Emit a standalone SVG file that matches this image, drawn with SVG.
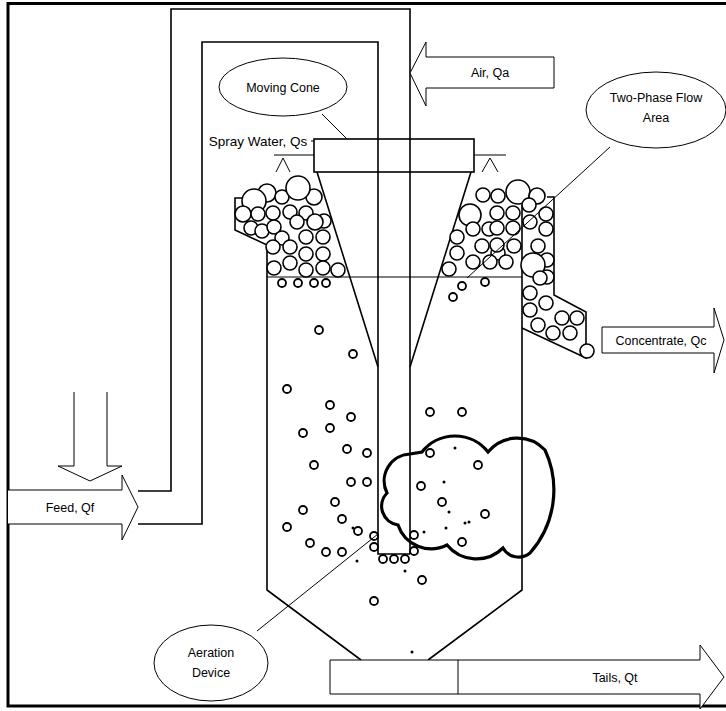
<svg xmlns="http://www.w3.org/2000/svg" width="726" height="711" viewBox="0 0 726 711">
  <style>
    .frame { fill: none; stroke: #000; stroke-width: 3; }
    .wall { fill: none; stroke: #000; stroke-width: 1.6; }
    .thin { fill: none; stroke: #000; stroke-width: 1; }
    .arrow { fill: #fff; stroke: #000; stroke-width: 1; }
    .bub { fill: #fff; stroke: #000; stroke-width: 1.6; }
    .sb { fill: #fff; stroke: #000; stroke-width: 1.8; }
    .dot { fill: #000; }
    .cloud { fill: none; stroke: #000; stroke-width: 3.2; }
    .lbl { font-family: "Liberation Sans", Arial, sans-serif; font-size: 12.5px; fill: #000; text-anchor: middle; }
  </style>

  <rect width="726" height="711" fill="#fff"/>

  <!-- border -->
  <path class="frame" d="M 726,3.5 H 8 V 706 H 726"/>

  <!-- feed / air pipe -->
  <g id="pipe">
    <path class="wall" d="M 138,491 H 171 V 9 H 410 V 554"/>
    <path class="wall" d="M 138,524 H 202 V 42 H 378 V 554 H 410"/>
  </g>

  <!-- column body -->
  <g id="column">
    <!-- left launder and wall -->
    <path class="wall" d="M 243,198 H 235 V 230 L 267,245 V 590 L 361,660"/>
    <!-- right wall, launder -->
    <path class="wall" d="M 547,197 H 554 V 295 L 586,312 V 358 L 522,328"/>
    <path class="wall" d="M 522,205 V 590 L 428,660"/>
    <!-- froth / pulp interface -->
    <path class="thin" d="M 267,277 H 522"/>
  </g>

  <!-- moving cone -->
  <g id="cone">
    <rect class="wall" x="314" y="139" width="160" height="33"/>
    <path class="wall" d="M 317,172 L 378,367 M 471,172 L 410,367"/>
    <!-- spray bars -->
    <path class="thin" d="M 274,155 H 314 M 276,172 L 283,158 L 290,172"/>
    <path class="thin" d="M 474,155 H 506 M 482,172 L 490,158 L 498,172"/>
  </g>

  <!-- froth bubbles -->
  <g id="froth-left">
    <circle class="bub" cx="267" cy="193" r="9"/>
    <circle class="bub" cx="254" cy="201" r="12"/>
    <circle class="bub" cx="282" cy="197" r="7"/>
    <circle class="bub" cx="314" cy="197" r="8"/>
    <circle class="bub" cx="298" cy="188" r="12"/>
    <circle class="bub" cx="243" cy="214" r="8"/>
    <circle class="bub" cx="258" cy="214" r="7"/>
    <circle class="bub" cx="273" cy="213" r="7"/>
    <circle class="bub" cx="290" cy="212" r="7"/>
    <circle class="bub" cx="306" cy="213" r="7"/>
    <circle class="bub" cx="324" cy="221" r="7"/>
    <circle class="bub" cx="251" cy="228" r="7"/>
    <circle class="bub" cx="262" cy="231" r="7"/>
    <circle class="bub" cx="274" cy="227" r="7"/>
    <circle class="bub" cx="297" cy="222" r="7"/>
    <circle class="bub" cx="315" cy="222" r="8"/>
    <circle class="bub" cx="282" cy="238" r="7"/>
    <circle class="bub" cx="306" cy="237" r="7"/>
    <circle class="bub" cx="323" cy="237" r="7"/>
    <circle class="bub" cx="273" cy="247" r="7"/>
    <circle class="bub" cx="290" cy="247" r="7"/>
    <circle class="bub" cx="306" cy="254" r="7"/>
    <circle class="bub" cx="323" cy="254" r="7"/>
    <circle class="bub" cx="290" cy="263" r="7"/>
    <circle class="bub" cx="274" cy="268" r="7"/>
    <circle class="bub" cx="306" cy="270" r="7"/>
    <circle class="bub" cx="323" cy="268" r="7"/>
    <circle class="bub" cx="338" cy="270" r="7"/>
  </g>

  <g id="froth-right">
    <circle class="bub" cx="483" cy="195" r="7"/>
    <circle class="bub" cx="498" cy="196" r="7"/>
    <circle class="bub" cx="518" cy="192" r="12"/>
    <circle class="bub" cx="537" cy="196" r="8"/>
    <circle class="bub" cx="529" cy="205" r="7"/>
    <circle class="bub" cx="470" cy="215" r="11"/>
    <circle class="bub" cx="497" cy="213" r="7"/>
    <circle class="bub" cx="513" cy="213" r="7"/>
    <circle class="bub" cx="530" cy="222" r="7"/>
    <circle class="bub" cx="546" cy="214" r="7"/>
    <circle class="bub" cx="473" cy="229" r="7"/>
    <circle class="bub" cx="489" cy="229" r="7"/>
    <circle class="bub" cx="497" cy="228" r="7"/>
    <circle class="bub" cx="513" cy="228" r="7"/>
    <circle class="bub" cx="546" cy="229" r="7"/>
    <circle class="bub" cx="457" cy="237" r="7"/>
    <circle class="bub" cx="482" cy="246" r="7"/>
    <circle class="bub" cx="498" cy="253" r="7"/>
    <circle class="bub" cx="497" cy="245" r="7"/>
    <circle class="bub" cx="514" cy="246" r="7"/>
    <circle class="bub" cx="538" cy="246" r="7"/>
    <circle class="bub" cx="457" cy="253" r="7"/>
    <circle class="bub" cx="473" cy="262" r="7"/>
    <circle class="bub" cx="490" cy="262" r="7"/>
    <circle class="bub" cx="506" cy="262" r="7"/>
    <circle class="bub" cx="449" cy="269" r="7"/>
    <circle class="bub" cx="547" cy="260" r="7"/>
    <circle class="bub" cx="533" cy="265" r="12"/>
    <circle class="bub" cx="547" cy="277" r="7"/>
    <circle class="bub" cx="540" cy="278" r="7"/>
    <circle class="bub" cx="530" cy="293" r="7"/>
    <circle class="bub" cx="546" cy="303" r="7"/>
    <circle class="bub" cx="530" cy="310" r="7"/>
    <circle class="bub" cx="538" cy="325" r="7"/>
    <circle class="bub" cx="553" cy="333" r="7"/>
    <circle class="bub" cx="562" cy="318" r="7"/>
    <circle class="bub" cx="570" cy="333" r="7"/>
    <circle class="bub" cx="577" cy="318" r="7"/>
    <circle class="bub" cx="587" cy="351" r="7"/>
  </g>

  <!-- rising bubbles in the pulp -->
  <g id="pulp-bubbles">
    <circle class="sb" cx="282" cy="283" r="4"/>
    <circle class="sb" cx="298" cy="283" r="4"/>
    <circle class="sb" cx="314" cy="283" r="4"/>
    <circle class="sb" cx="326" cy="283" r="4"/>
    <circle class="sb" cx="462" cy="286" r="4"/>
    <circle class="sb" cx="453" cy="297" r="4"/>
    <circle class="sb" cx="485" cy="282" r="4"/>
    <circle class="sb" cx="319" cy="330" r="4"/>
    <circle class="sb" cx="353" cy="354" r="4"/>
    <circle class="sb" cx="287" cy="389" r="4"/>
    <circle class="sb" cx="330" cy="405" r="4"/>
    <circle class="sb" cx="351" cy="417" r="4"/>
    <circle class="sb" cx="330" cy="428" r="4"/>
    <circle class="sb" cx="303" cy="433" r="4"/>
    <circle class="sb" cx="347" cy="449" r="4"/>
    <circle class="sb" cx="367" cy="453" r="4"/>
    <circle class="sb" cx="314" cy="465" r="4"/>
    <circle class="sb" cx="351" cy="482" r="4"/>
    <circle class="sb" cx="367" cy="482" r="4"/>
    <circle class="sb" cx="335" cy="502" r="4"/>
    <circle class="sb" cx="303" cy="510" r="4"/>
    <circle class="sb" cx="342" cy="519" r="4"/>
    <circle class="sb" cx="287" cy="527" r="4"/>
    <circle class="sb" cx="358" cy="531" r="4"/>
    <circle class="sb" cx="310" cy="543" r="4"/>
    <circle class="sb" cx="326" cy="552" r="4"/>
    <circle class="sb" cx="342" cy="552" r="4"/>
    <circle class="sb" cx="430" cy="412" r="4"/>
    <circle class="sb" cx="462" cy="412" r="4"/>
    <circle class="sb" cx="430" cy="453" r="4"/>
    <circle class="sb" cx="478" cy="465" r="4"/>
    <circle class="sb" cx="421" cy="486" r="4"/>
    <circle class="sb" cx="442" cy="502" r="4"/>
    <circle class="sb" cx="485" cy="514" r="4"/>
    <circle class="sb" cx="462" cy="542" r="4"/>
    <circle class="sb" cx="422" cy="580" r="4"/>
    <circle class="sb" cx="374" cy="601" r="4"/>
    <circle class="dot" cx="455" cy="448" r="1.5"/>
    <circle class="dot" cx="444" cy="482" r="1.5"/>
    <circle class="dot" cx="449" cy="512" r="1.5"/>
    <circle class="dot" cx="424" cy="532" r="1.5"/>
    <circle class="dot" cx="446" cy="528" r="1.5"/>
    <circle class="dot" cx="465" cy="523" r="1.5"/>
    <circle class="dot" cx="469" cy="522" r="1.5"/>
    <circle class="dot" cx="357" cy="561" r="1.5"/>
    <circle class="dot" cx="405" cy="571" r="1.5"/>
    <circle class="dot" cx="353" cy="528" r="1.5"/>
    <circle class="dot" cx="412" cy="652" r="1.5"/>
  </g>

  <!-- aeration device at the column foot -->
  <g id="aerator">
    <circle class="sb" cx="374" cy="536" r="4"/>
    <circle class="sb" cx="374" cy="547" r="4"/>
    <circle class="sb" cx="383" cy="559" r="4"/>
    <circle class="sb" cx="394" cy="559" r="4"/>
    <circle class="sb" cx="405" cy="559" r="4"/>
    <circle class="sb" cx="414" cy="535" r="4"/>
    <circle class="sb" cx="414" cy="551" r="4"/>
  </g>

  <!-- two-phase flow area -->
  <g id="cloud">
    <path class="cloud" d="M 410,454 L 422,452 A 42,42 0 0 1 488,452 A 38,38 0 0 1 545,450 A 95,95 0 0 1 530,553 A 18,18 0 0 1 503,548 A 38,38 0 0 1 447,545 A 35,35 0 0 1 398,525 A 19,19 0 0 1 387,493 A 27,27 0 0 1 410,454 Z"/>
  </g>

  <!-- flow arrows -->
  <g id="air">
    <path class="arrow" d="M 554,57 H 426 V 42 L 410,73 L 426,106 V 88 H 554 Z"/>
    <text class="lbl" x="490" y="77">Air, Qa</text>
  </g>
  <g id="feed">
    <path class="arrow" d="M 8,490 H 122 V 475 L 138,507 L 122,540 V 524 H 8"/>
    <text class="lbl" x="70" y="512">Feed, Qf</text>
  </g>
  <g id="feed-down">
    <path class="arrow" d="M 74,392 V 466 H 58 L 90,481 L 122,466 H 107 V 392"/>
  </g>
  <g id="concentrate">
    <path class="arrow" d="M 602,327 H 714 V 308 L 724,340 L 714,373 V 353 H 602 Z"/>
    <text class="lbl" x="661" y="345">Concentrate, Qc</text>
  </g>
  <g id="tails">
    <path class="arrow" d="M 330,660 H 700 V 645 L 724,677 L 700,709 V 694 H 330 Z"/>
    <path class="thin" d="M 458,660 V 694"/>
    <text class="lbl" x="615" y="682">Tails, Qt</text>
  </g>

  <!-- callouts -->
  <g id="connectors">
    <path class="thin" d="M 322,114 L 347,139"/>
    <path class="thin" d="M 610,147 L 467,278"/>
    <path class="thin" d="M 257,631 L 378,534"/>
  </g>
  <g id="lbl-cone">
    <ellipse class="thin" cx="283" cy="87" rx="64" ry="29"/>
    <text class="lbl" x="283" y="92">Moving Cone</text>
  </g>
  <g id="lbl-twophase">
    <ellipse class="thin" cx="656" cy="110" rx="70" ry="38"/>
    <text class="lbl" x="656" y="102">Two-Phase Flow</text>
    <text class="lbl" x="656" y="122">Area</text>
  </g>
  <g id="lbl-aeration">
    <ellipse class="thin" cx="211" cy="663" rx="57" ry="38"/>
    <text class="lbl" x="211" y="657">Aeration</text>
    <text class="lbl" x="211" y="677">Device</text>
  </g>
  <g id="lbl-spray">
    <text class="lbl" x="258" y="146" style="font-size:13.5px">Spray Water, Qs</text>
    <path class="thin" d="M 311,141 H 314"/>
  </g>
</svg>
